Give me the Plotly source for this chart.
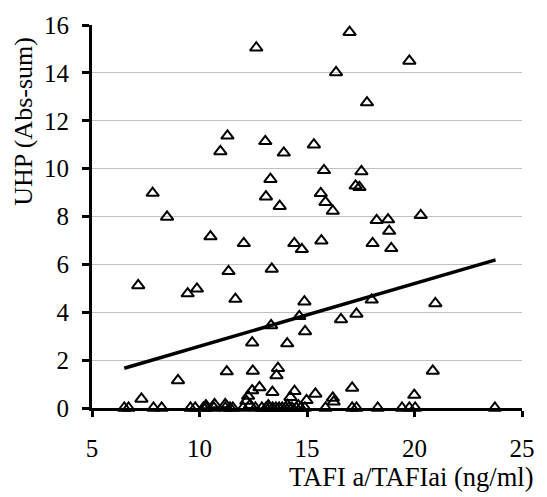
import plotly.graph_objects as go

# Scatter data (TAFI a/TAFIai vs UHP)
tafi = [
    12.64, 16.98, 19.76, 16.35, 17.79, 11.30, 10.97, 13.06, 13.92, 15.32, 15.79, 17.53, 13.30,
    17.26, 17.44, 7.82, 13.09, 15.64, 13.73, 15.86, 16.20, 8.49, 18.24, 18.77, 20.29, 18.82,
    10.51, 12.06, 14.41, 14.76, 15.67, 18.05, 18.92,
    11.35, 13.36, 7.15, 9.45, 9.88, 11.67, 13.33, 12.45, 14.88, 14.64, 14.91, 14.08, 16.58,
    17.30, 18.01, 20.97, 20.85, 9.00, 11.27, 12.48, 13.65, 13.58,
    7.30, 12.79, 12.45, 13.39, 12.26, 12.18, 14.42, 14.23, 15.39, 14.98, 16.20, 16.24, 17.10,
    19.99, 10.30, 10.70, 11.20, 12.35, 13.20, 14.10, 14.60,
    6.50, 6.70, 7.86, 8.24, 9.58, 9.80, 10.18, 10.30, 10.67, 11.20, 11.42, 11.55, 12.03,
    12.60, 12.90, 13.10, 13.25, 13.40, 13.55, 13.70, 13.85, 14.00, 14.15, 14.30, 14.50,
    14.70, 14.90, 15.86, 17.10, 17.30, 18.29, 19.42, 19.76, 20.03, 23.74,
]
uhp = [
    15.05, 15.70, 14.50, 14.02, 12.76, 11.37, 10.72, 11.14, 10.66, 11.00, 9.93, 9.88, 9.56,
    9.28, 9.22, 8.98, 8.83, 8.97, 8.43, 8.60, 8.23, 7.98, 7.84, 7.87, 8.05, 7.39,
    7.16, 6.88, 6.88, 6.63, 6.99, 6.88, 6.67,
    5.71, 5.81, 5.12, 4.78, 4.98, 4.55, 3.45, 2.73, 4.44, 3.83, 3.20, 2.69, 3.70,
    3.93, 4.52, 4.37, 1.55, 1.15, 1.52, 1.55, 1.66, 1.36,
    0.38, 0.86, 0.73, 0.66, 0.50, 0.29, 0.70, 0.45, 0.59, 0.32, 0.42, 0.26, 0.84,
    0.54, 0.10, 0.15, 0.15, 0.12, 0.10, 0.12, 0.10,
    0, 0, 0, 0, 0, 0, 0, 0, 0, 0, 0, 0, 0,
    0, 0, 0, 0, 0, 0, 0, 0, 0, 0, 0, 0,
    0, 0, 0, 0, 0, 0, 0, 0, 0, 0,
]

# Linear trend line endpoints
trend_x = [6.5, 23.77]
trend_y = [1.66, 6.19]

x_ticks = [5, 10, 15, 20, 25]
y_ticks = [0, 2, 4, 6, 8, 10, 12, 14, 16]

x_title = "TAFI a/TAFIai (ng/ml)"
y_title = "UHP (Abs-sum)"

FONT = "Liberation Serif, Times New Roman, serif"

fig = go.Figure()
fig.add_trace(go.Scatter(
    x=tafi, y=uhp, mode="markers", cliponaxis=False,
    marker=dict(symbol="triangle-up-open", size=11, color="black",
                line=dict(color="black", width=2)),
    showlegend=False, hoverinfo="skip",
))
fig.add_trace(go.Scatter(
    x=trend_x, y=trend_y, mode="lines",
    line=dict(color="black", width=3.5),
    showlegend=False, hoverinfo="skip",
))

L, R, T, B = 92, 15, 18, 89
W, H = 547, 497
pw, ph = W - L - R, H - T - B

fig.update_layout(
    width=W, height=H,
    margin=dict(l=L, r=R, t=T, b=B, pad=0),
    paper_bgcolor="white", plot_bgcolor="white",
    font=dict(family=FONT, size=25, color="black"),
    xaxis=dict(
        range=[5, 25], tickvals=x_ticks, showgrid=False, zeroline=False,
        showline=True, linecolor="black", linewidth=3,
        ticks="outside", ticklen=6, tickwidth=3, tickcolor="black",
        ticklabelstandoff=10,
    ),
    yaxis=dict(
        range=[0, 16], tickvals=y_ticks, showgrid=True, gridcolor="#BFBFBF", gridwidth=1,
        zeroline=False, showline=True, linecolor="black", linewidth=3,
        ticks="outside", ticklen=7, tickwidth=3, tickcolor="black",
        ticklabelstandoff=8,
    ),
    annotations=[
        dict(text=x_title, xref="paper", yref="paper",
             x=(546 - L) / pw, y=(408 - 478) / ph, xanchor="right", yanchor="middle",
             showarrow=False, font=dict(family=FONT, size=26.5, color="black")),
        dict(text=y_title, xref="paper", yref="paper", textangle=-90,
             x=(22 - L) / pw, y=(408 - 116) / ph, xanchor="center", yanchor="middle",
             showarrow=False, font=dict(family=FONT, size=26, color="black")),
    ],
)

fig.write_html("out.html")
